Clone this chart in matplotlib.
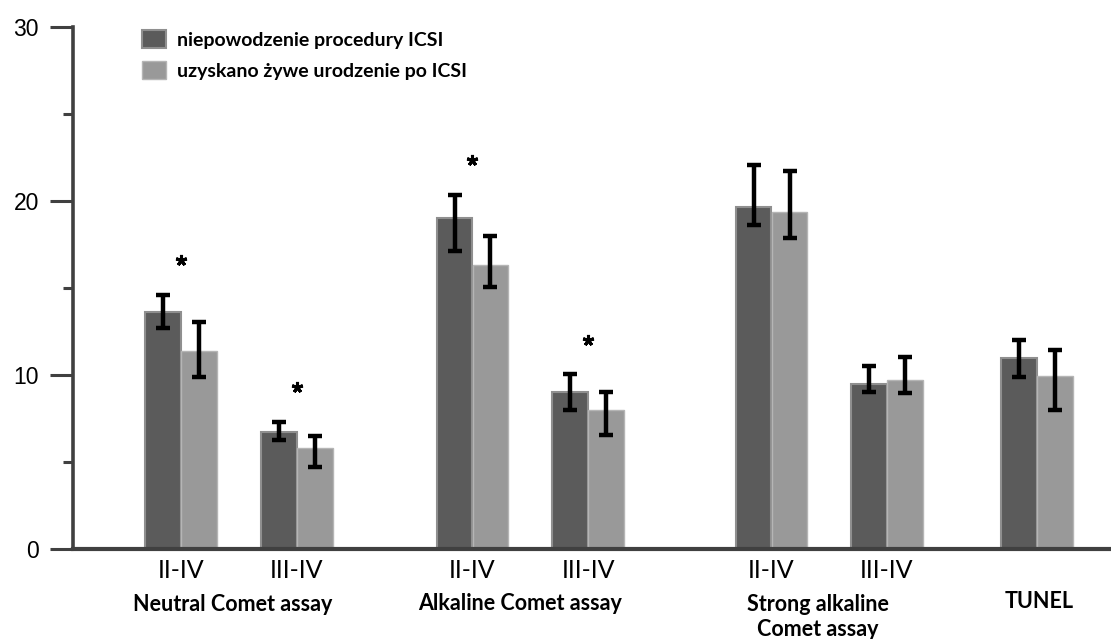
import matplotlib
matplotlib.use("Agg")
import matplotlib.pyplot as plt
from matplotlib.patches import Patch

# values (mean, and distance to the upper/lower whisker ends)
sub_labels = ["II-IV", "III-IV", "II-IV", "III-IV", "II-IV", "III-IV", ""]
fail_mean = [13.6, 6.75, 19.05, 9.05, 19.65, 9.5, 11.0]
fail_up = [1.0, 0.57, 1.3, 1.0, 2.4, 1.0, 1.0]
fail_dn = [0.9, 0.49, 1.95, 1.05, 1.03, 0.45, 1.1]
live_mean = [11.4, 5.8, 16.3, 8.0, 19.35, 9.7, 9.96]
live_up = [1.65, 0.7, 1.7, 1.0, 2.35, 1.35, 1.5]
live_dn = [1.5, 1.07, 1.25, 1.45, 1.45, 0.75, 2.0]
star_groups = [0, 1, 2, 3]
star_vals = [16.6, 9.33, 22.36, 12.0]
assays = ["Neutral Comet assay", "Alkaline Comet assay", "Strong alkaline\nComet assay", "TUNEL"]
series_names = ["niepowodzenie procedury ICSI", "uzyskano żywe urodzenie po ICSI"]

# layout
centers = [1.81, 2.97, 4.725, 5.88, 7.715, 8.87, 10.37]
assay_x = [2.33, 5.20, 8.18, 10.39]
w = 0.355
dark = "#5b5b5b"
light = "#999999"
axc = "#404040"

fig = plt.figure(figsize=(11.11, 6.39), dpi=100)
ax = fig.add_axes([73/1111, 90/639, 1 - 73/1111, 522/639])

xd = [c - 0.18 for c in centers]
xl = [c + 0.18 for c in centers]
ax.bar(xd, fail_mean, width=w, color=dark, edgecolor="#8f8f8f", linewidth=1.5, zorder=2)
ax.bar(xl, live_mean, width=w, color=light, edgecolor="#b5b5b5", linewidth=1, zorder=2)
ax.errorbar(xd, fail_mean, yerr=[fail_dn, fail_up], fmt="none", ecolor="black",
            elinewidth=3.2, capsize=4.8, capthick=3.2, zorder=3)
ax.errorbar(xl, live_mean, yerr=[live_dn, live_up], fmt="none", ecolor="black",
            elinewidth=3.2, capsize=4.8, capthick=3.2, zorder=3)

ax.plot([centers[g] for g in star_groups], star_vals, linestyle="none",
        marker=(5, 2, 0), markersize=8, markeredgewidth=2.2, color="black", zorder=3)

ax.set_xlim(0.73, 11.11)
ax.set_ylim(0, 30)
for s in ["top", "right"]:
    ax.spines[s].set_visible(False)
ax.spines["left"].set_linewidth(2.6)
ax.spines["bottom"].set_linewidth(3)
ax.spines["left"].set_color(axc)
ax.spines["bottom"].set_color(axc)
ax.spines["bottom"].set_zorder(4)

ax.set_yticks([0, 10, 20, 30])
ax.set_yticks([5, 15, 25], minor=True)
ax.tick_params(axis="y", which="major", length=16.5, width=2.2, color=axc, pad=8,
               labelsize=16.5, labelcolor="black")
ax.tick_params(axis="y", which="minor", length=7, width=2.2, color=axc)
for t in ax.get_yticklabels():
    t.set_family("Liberation Sans")

ax.set_xticks(centers)
ax.set_xticklabels(sub_labels, family="Lato", fontsize=18)
ax.tick_params(axis="x", length=0, pad=7.5)

tr = ax.get_xaxis_transform()
ax.text(assay_x[0], -0.107, assays[0], transform=tr, ha="center", va="center",
        family="Lato", fontweight="bold", fontsize=15.5)
ax.text(assay_x[1], -0.105, assays[1], transform=tr, ha="center", va="center",
        family="Lato", fontweight="bold", fontsize=15.5)
ax.text(assay_x[2], -0.130, assays[2], transform=tr, ha="center", va="center",
        family="Lato", fontweight="bold", fontsize=15.5, linespacing=1.2)
ax.text(assay_x[3], -0.100, assays[3], transform=tr, ha="center", va="center",
        family="Lato", fontweight="bold", fontsize=15.5)

handles = [Patch(facecolor=dark, edgecolor="#8f8f8f", linewidth=1.5),
           Patch(facecolor=light, edgecolor="#b5b5b5", linewidth=1)]
leg = ax.legend(handles, series_names, loc="upper left", frameon=False,
                bbox_to_anchor=(142/1111, 1 - 30/639), bbox_transform=fig.transFigure,
                borderaxespad=0, borderpad=0, handlelength=1.25, handleheight=1.05,
                handletextpad=0.55, labelspacing=0.65,
                prop={"family": "Lato", "weight": "bold", "size": 14})

fig.savefig("out.png", dpi=100)
